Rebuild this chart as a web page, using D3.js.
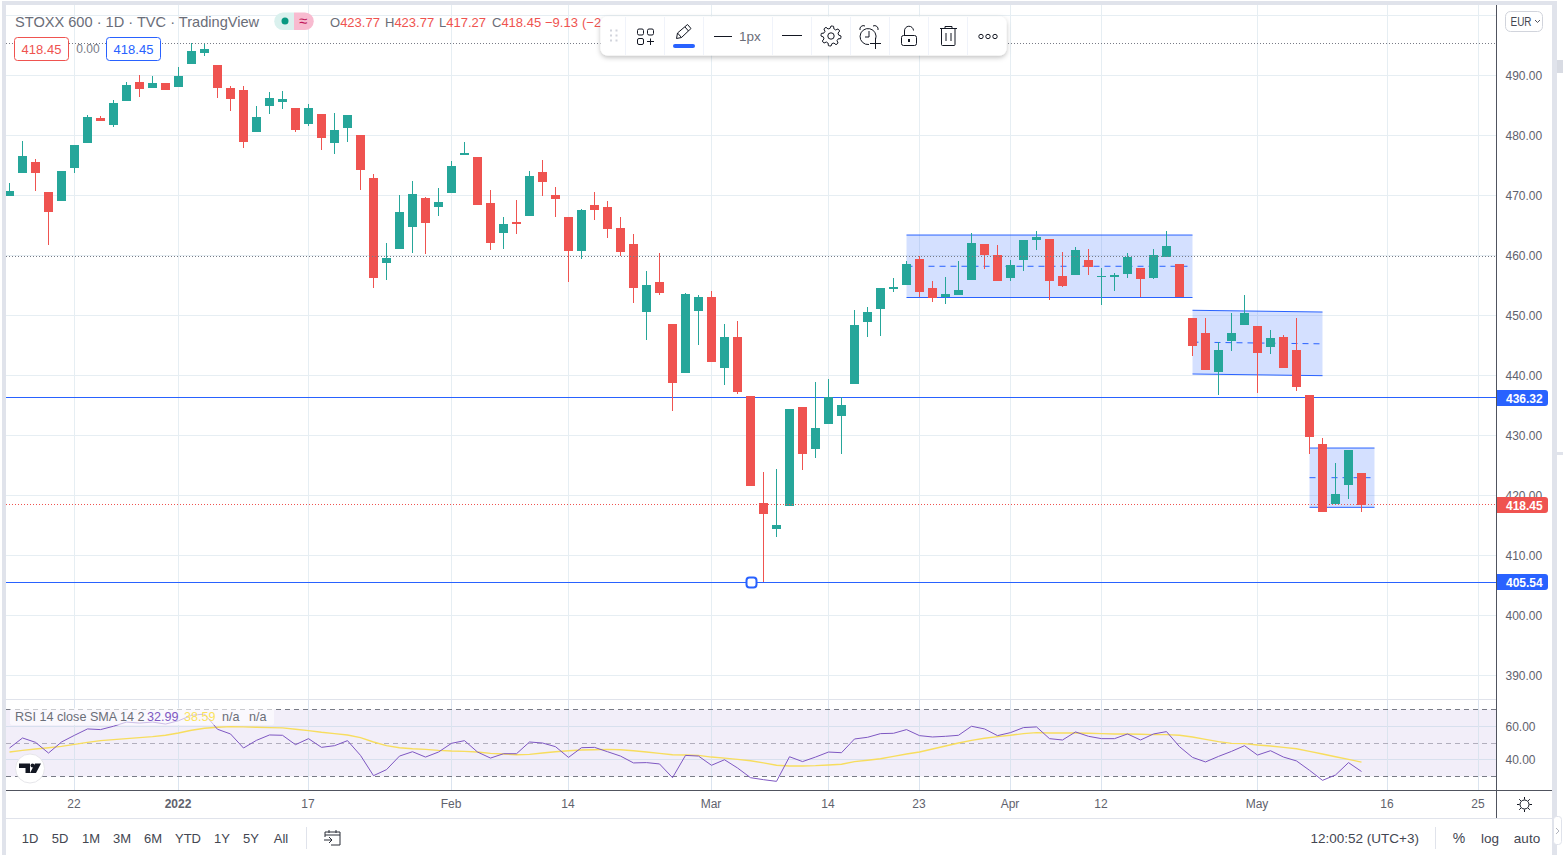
<!DOCTYPE html>
<html>
<head>
<meta charset="utf-8">
<script src="https://cdn.jsdelivr.net/npm/d3@7"></script>
<style>
html, body { margin: 0; padding: 0; background: #fff; overflow: hidden; }
svg { display: block; }
text { font-family: "Liberation Sans", Arial, sans-serif; }
</style>
</head>
<body>
<div id="chart"></div>
<script>
// candles, one per trading day
const opens = [469.91,473.75,475.58,470.58,469.08,474.58,478.75,482.91,481.75,485.75,488.91,487.91,488.75,488.08,491.91,493.75,491.75,487.91,487.58,480.58,484.91,485.58,484.58,481.91,483.58,478.75,481.25,480.08,472.91,458.75,461.08,464.75,469.58,468.08,470.41,476.75,476.41,468.75,463.75,465.58,466.58,473.91,470.08,466.41,460.75,468.41,468.08,464.58,461.91,450.58,455.58,448.58,440.41,450.75,453.08,441.25,446.41,436.58,418.75,414.41,418.25,434.75,427.75,431.91,433.25,438.58,448.91,451.08,454.41,455.08,459.41,454.58,453.08,453.41,455.91,461.91,460.08,456.25,459.25,462.58,462.75,456.58,456.75,459.25,456.41,456.41,456.91,457.91,456.25,459.75,458.58,449.58,447.08,440.58,445.75,448.41,448.25,444.75,446.41,444.25,436.75,428.58,418.58,421.75,423.77];
const highs = [472.08,479.08,476.08,470.58,474.08,478.41,483.41,483.25,485.91,488.91,490.08,489.91,488.75,491.41,495.41,495.41,491.75,488.25,488.25,484.91,487.25,487.41,484.58,485.25,483.58,483.75,483.41,480.08,473.58,462.08,470.08,472.41,469.75,471.25,475.75,478.91,476.41,470.91,466.41,469.25,474.08,475.91,471.41,466.41,467.75,470.58,469.08,466.41,463.58,457.41,460.41,448.58,453.75,453.41,454.08,448.58,449.08,436.58,423.91,424.41,434.41,434.75,438.91,439.41,436.41,450.91,451.41,454.58,456.25,459.08,459.91,455.75,456.41,459.08,463.75,461.91,461.75,459.25,462.58,464.08,462.75,460.58,461.41,461.08,457.91,457.08,460.41,457.91,461.08,464.08,458.58,449.58,449.58,445.58,450.41,453.41,448.25,447.58,446.75,449.58,436.75,429.58,425.41,427.58,423.77];
const lows = [469.91,473.75,470.75,461.75,469.08,473.75,478.75,482.41,481.41,485.75,486.41,487.91,487.58,488.08,491.91,493.25,486.25,484.08,477.91,480.58,483.58,484.41,480.58,481.58,477.58,476.91,478.91,470.91,454.58,455.91,461.08,460.41,460.25,466.58,470.41,476.75,468.41,460.91,461.08,463.58,466.58,469.91,466.41,455.58,459.41,465.91,462.91,459.91,452.08,445.91,453.41,434.08,440.41,445.08,442.25,438.41,436.91,421.58,405.58,413.08,418.25,424.25,426.25,431.91,426.91,438.58,446.41,446.58,453.91,455.08,453.08,452.25,451.91,453.41,455.91,457.75,455.75,455.75,457.41,460.91,452.58,454.75,456.75,456.75,451.75,454.08,456.25,453.08,456.08,459.75,453.08,443.25,440.91,436.75,444.08,448.41,437.08,443.58,441.25,437.41,426.91,417.25,418.58,419.41,417.27];
const closes = [470.75,476.58,473.75,467.25,474.08,478.41,483.08,482.41,485.41,488.41,487.75,488.75,487.58,489.91,494.08,494.41,487.91,486.08,478.91,483.08,486.25,486.08,480.91,484.58,479.58,480.91,483.41,474.25,456.25,459.58,467.25,470.25,465.41,468.91,474.91,477.08,468.41,462.08,465.25,465.25,473.25,472.25,469.41,460.75,467.58,467.58,464.41,460.58,454.58,455.08,453.75,438.75,453.58,453.08,442.25,446.41,437.25,421.58,416.91,415.08,434.41,426.91,431.25,436.41,435.08,448.41,450.58,454.58,454.75,458.58,453.91,452.91,453.58,454.25,462.08,460.08,455.75,458.41,462.58,463.08,455.75,454.91,460.91,458.08,456.58,456.75,459.75,456.08,460.08,461.58,453.08,444.91,440.91,444.25,447.08,450.41,443.75,446.25,441.25,438.08,429.75,417.25,420.25,427.58,418.45];

const rsi = [47.0,53.0,50.4,44.0,50.6,54.6,58.4,58.0,60.0,62.5,61.9,62.5,61.3,63.3,66.5,67.3,58.2,55.4,47.0,51.6,54.8,54.6,49.0,52.6,47.4,48.4,51.4,42.6,30.5,34.1,42.2,44.8,41.6,44.6,49.8,51.4,44.6,41.0,43.6,43.6,50.6,50.0,47.8,41.4,47.2,47.4,44.8,42.2,38.1,38.3,37.5,29.3,42.6,42.2,36.7,40.0,35.1,29.3,28.1,27.1,41.8,38.9,41.6,44.6,44.2,52.4,53.4,55.6,55.8,58.0,54.4,53.6,54.0,54.6,60.0,58.4,54.4,56.2,59.2,59.6,52.6,51.8,56.6,54.0,52.6,52.6,55.4,51.8,55.4,56.8,47.8,41.4,38.7,42.0,45.0,48.4,42.8,45.4,41.6,39.3,33.7,27.7,30.9,38.3,32.99];
const rsiSma = [44.6,45.6,46.4,47.2,48.0,49.2,50.4,51.4,52.0,52.6,53.2,53.8,54.6,56.0,57.6,58.8,59.4,59.8,59.6,59.4,59.2,59.0,58.2,57.4,56.4,55.6,54.8,53.2,50.6,48.4,47.2,46.6,46.2,45.6,45.2,45.0,44.6,43.8,43.4,43.0,43.2,44.0,44.8,45.4,45.8,46.0,46.2,46.0,45.4,44.6,43.8,43.0,42.8,42.6,41.6,41.0,40.2,39.4,38.1,36.7,36.3,36.3,36.5,36.9,37.3,38.9,39.7,40.6,42.0,43.4,44.6,46.4,48.2,50.0,51.6,52.8,53.8,54.6,55.6,56.2,56.0,56.0,56.0,55.8,55.6,55.4,55.4,55.2,55.0,55.0,54.6,53.6,52.2,50.8,49.8,49.6,48.8,48.2,47.4,46.6,45.0,43.4,41.8,40.2,38.59];

// x axis ticks are candle indexes, the last two are past the data
const dateTicks = [5, 13, 23, 34, 43, 54, 63, 70, 77, 84, 96, 106, 113];
const dateLabels = ["22", "2022", "17", "Feb", "14", "Mar", "14", "23", "Apr", "12", "May", "16", "25"];
const priceTicks = [390, 400, 410, 420, 430, 440, 450, 460, 470, 480, 490];
const rsiTicks = [40, 60];
const rsiBands = [70, 50, 30];

// drawings on the chart
const hLines = [436.32, 405.54];
const dottedLevels = [495.4, 459.9];
const lastPrice = 418.45;
const channels = [
    { from: 69, to: 91, top: [463.41, 463.41], bottom: [453.0, 453.0] },
    { from: 91, to: 101, top: [450.87, 450.58], bottom: [440.25, 439.97] },
    { from: 100, to: 105, top: [427.91, 427.91], bottom: [418.03, 418.03] },
];
const anchorIndex = 57;

const rangeButtons = ["1D", "5D", "1M", "3M", "6M", "YTD", "1Y", "5Y", "All"];
const rangeButtonX = [30, 60, 91, 122, 153, 188, 222, 251, 281];

const red = "#ef5350", green = "#26a69a", blue = "#2962ff", gridColor = "#e6eef3";
const textColor = "#5f626d", darkLine = "#50535e", frameColor = "#e0e3eb";

const width = 1563, height = 855;
const paneLeft = 6, paneRight = 1496, paneTop = 5, paneSplit = 699, paneBottom = 790, axisBottom = 818;

const svg = d3.select("#chart").append("svg").attr("width", width).attr("height", height);

const x = d3.scaleLinear().domain([0, 104]).range([9.5, 1361.5]);
const y = d3.scaleLinear().domain([400, 490]).range([615.5, 75.5]);
const yRsi = d3.scaleLinear().domain([30, 70]).range([776.5, 709.5]);

// one pixel lines stay sharp on a half pixel
const crisp = v => Math.round(v - 0.5) + 0.5;

const defs = svg.append("defs");
defs.append("clipPath").attr("id", "mainClip").append("rect")
    .attr("x", paneLeft).attr("y", paneTop).attr("width", paneRight - paneLeft).attr("height", paneSplit - paneTop);
defs.append("clipPath").attr("id", "rsiClip").append("rect")
    .attr("x", paneLeft).attr("y", paneSplit).attr("width", paneRight - paneLeft).attr("height", paneBottom - paneSplit);
const shadow = defs.append("filter").attr("id", "toolbarShadow")
    .attr("x", "-5%").attr("y", "-30%").attr("width", "110%").attr("height", "170%");
shadow.append("feDropShadow").attr("dx", 0).attr("dy", 2).attr("stdDeviation", 2.5)
    .attr("flood-color", "#000").attr("flood-opacity", 0.25);

// frame strips
svg.append("rect").attr("x", 2).attr("y", 1).attr("width", 1555).attr("height", 4).attr("fill", frameColor);
svg.append("rect").attr("x", 2).attr("y", 1).attr("width", 4).attr("height", height).attr("fill", frameColor);
svg.append("rect").attr("x", 1552).attr("y", 1).attr("width", 5).attr("height", height).attr("fill", frameColor);
svg.append("rect").attr("x", 1557).attr("y", 60).attr("width", 6).attr("height", 13).attr("fill", "#d8dbe3");
svg.append("rect").attr("x", 1557).attr("y", 452).attr("width", 6).attr("height", 3).attr("fill", frameColor);

// grid
const main = svg.append("g").attr("clip-path", "url(#mainClip)");
const lower = svg.append("g").attr("clip-path", "url(#rsiClip)");

main.selectAll(".hgrid").data(priceTicks.concat([500])).enter().append("line")
    .attr("x1", paneLeft).attr("x2", paneRight)
    .attr("y1", d => y(d)).attr("y2", d => y(d))
    .attr("stroke", gridColor);
main.selectAll(".vgrid").data(dateTicks).enter().append("line")
    .attr("x1", d => x(d)).attr("x2", d => x(d))
    .attr("y1", paneTop).attr("y2", paneSplit)
    .attr("stroke", gridColor);

// channels go under the candles
channels.forEach(c => {
    const x1 = x(c.from), x2 = x(c.to);
    main.append("polygon")
        .attr("points", [[x1, y(c.top[0])], [x2, y(c.top[1])], [x2, y(c.bottom[1])], [x1, y(c.bottom[0])]].join(" "))
        .attr("fill", blue).attr("fill-opacity", 0.2);
    main.append("line").attr("x1", x1).attr("x2", x2).attr("y1", y(c.top[0])).attr("y2", y(c.top[1]))
        .attr("stroke", blue).attr("stroke-width", 1);
    main.append("line").attr("x1", x1).attr("x2", x2).attr("y1", y(c.bottom[0])).attr("y2", y(c.bottom[1]))
        .attr("stroke", blue).attr("stroke-width", 1);
    main.append("line").attr("x1", x1).attr("x2", x2)
        .attr("y1", y((c.top[0] + c.bottom[0]) / 2)).attr("y2", y((c.top[1] + c.bottom[1]) / 2))
        .attr("stroke", blue).attr("stroke-width", 1).attr("stroke-dasharray", "6 5");
});

main.selectAll(".hline").data(hLines).enter().append("line")
    .attr("x1", paneLeft).attr("x2", paneRight)
    .attr("y1", d => crisp(y(d))).attr("y2", d => crisp(y(d)))
    .attr("stroke", blue);

// candles
const candles = main.append("g").selectAll("g").data(d3.range(opens.length)).enter().append("g")
    .attr("fill", i => closes[i] >= opens[i] ? green : red)
    .attr("shape-rendering", "crispEdges");
candles.append("rect")
    .attr("x", i => x(i) - 0.5).attr("width", 1)
    .attr("y", i => Math.round(y(highs[i])))
    .attr("height", i => Math.max(1, Math.round(y(lows[i])) - Math.round(y(highs[i]))));
candles.append("rect")
    .attr("x", i => x(i) - 4.5).attr("width", 9)
    .attr("y", i => Math.round(y(Math.max(opens[i], closes[i]))))
    .attr("height", i => Math.max(1, Math.round(y(Math.min(opens[i], closes[i]))) - Math.round(y(Math.max(opens[i], closes[i])))));

// dotted levels sit on top of the candles
main.selectAll(".dotted").data(dottedLevels).enter().append("line")
    .attr("x1", paneLeft).attr("x2", paneRight)
    .attr("y1", d => crisp(y(d))).attr("y2", d => crisp(y(d)))
    .attr("stroke", "#787b86").attr("stroke-dasharray", "1 2");
main.append("line")
    .attr("x1", paneLeft).attr("x2", paneRight)
    .attr("y1", crisp(y(lastPrice))).attr("y2", crisp(y(lastPrice)))
    .attr("stroke", red).attr("stroke-dasharray", "1 2");

// anchor of the selected line
main.append("rect")
    .attr("x", x(anchorIndex) - 4).attr("y", crisp(y(hLines[1])) - 5)
    .attr("width", 10).attr("height", 10).attr("rx", 3)
    .attr("fill", "#fff").attr("stroke", blue).attr("stroke-width", 2);

// RSI pane
lower.append("rect")
    .attr("x", paneLeft).attr("width", x(118) - paneLeft)
    .attr("y", yRsi(70)).attr("height", yRsi(30) - yRsi(70))
    .attr("fill", "#7e57c2").attr("fill-opacity", 0.1);
lower.selectAll(".hgrid").data(rsiTicks).enter().append("line")
    .attr("x1", paneLeft).attr("x2", paneRight)
    .attr("y1", d => crisp(yRsi(d))).attr("y2", d => crisp(yRsi(d)))
    .attr("stroke", "#d8e0ee");
lower.selectAll(".vgrid").data(dateTicks).enter().append("line")
    .attr("x1", d => x(d)).attr("x2", d => x(d))
    .attr("y1", paneSplit).attr("y2", paneBottom)
    .attr("stroke", "#dbe4ef");
lower.selectAll(".band").data(rsiBands).enter().append("line")
    .attr("x1", paneLeft).attr("x2", paneRight)
    .attr("y1", d => crisp(yRsi(d))).attr("y2", d => crisp(yRsi(d)))
    .attr("stroke", d => d === 50 ? "#b1aebd" : "#787b86")
    .attr("stroke-dasharray", "5 4");

const rsiLine = d3.line().x((d, i) => x(i)).y(d => yRsi(d));
lower.append("path").datum(rsiSma).attr("d", rsiLine)
    .attr("fill", "none").attr("stroke", "#f7dd5e").attr("stroke-width", 1.4);
lower.append("path").datum(rsi).attr("d", rsiLine)
    .attr("fill", "none").attr("stroke", "#7e57c2").attr("stroke-width", 1);

// axes
const xAxis = d3.axisBottom(x).tickValues(dateTicks).tickSize(0).tickPadding(9)
    .tickFormat((d, i) => dateLabels[i]);
const gx = svg.append("g").attr("transform", `translate(-1,${paneBottom + 0.5})`).call(xAxis);
gx.select(".domain").remove();
gx.selectAll("text").attr("font-size", 12).attr("fill", textColor).attr("font-family", "Liberation Sans")
    .attr("font-weight", (d, i) => dateLabels[i] === "2022" ? 700 : 400);

const yAxis = d3.axisRight(y).tickValues(priceTicks).tickSize(0).tickPadding(9.5)
    .tickFormat(d3.format(".2f"));
const gy = svg.append("g").attr("transform", `translate(${paneRight},0)`).call(yAxis);
gy.select(".domain").remove();
gy.selectAll("text").attr("font-size", 12).attr("fill", textColor).attr("font-family", "Liberation Sans");

const yRsiAxis = d3.axisRight(yRsi).tickValues(rsiTicks).tickSize(0).tickPadding(9.5)
    .tickFormat(d3.format(".2f"));
const gr = svg.append("g").attr("transform", `translate(${paneRight},0)`).call(yRsiAxis);
gr.select(".domain").remove();
gr.selectAll("text").attr("font-size", 12).attr("fill", textColor).attr("font-family", "Liberation Sans");

// pane borders
svg.append("line").attr("x1", paneLeft).attr("x2", paneRight).attr("y1", paneSplit + 0.5).attr("y2", paneSplit + 0.5).attr("stroke", frameColor);
svg.append("line").attr("x1", paneLeft).attr("x2", 1552).attr("y1", paneBottom + 0.5).attr("y2", paneBottom + 0.5).attr("stroke", darkLine);
svg.append("line").attr("x1", paneRight + 0.5).attr("x2", paneRight + 0.5).attr("y1", paneTop).attr("y2", axisBottom).attr("stroke", darkLine);
svg.append("line").attr("x1", paneLeft).attr("x2", 1552).attr("y1", axisBottom + 0.5).attr("y2", axisBottom + 0.5).attr("stroke", frameColor);

// price labels on the axis
function priceTag(value, color) {
    const cy = Math.round(y(value));
    svg.append("path")
        .attr("d", `M1497,${cy - 8}H1545a3,3 0 0 1 3,3V${cy + 5}a3,3 0 0 1 -3,3H1497Z`)
        .attr("fill", color);
    svg.append("text").attr("x", 1506).attr("y", cy + 4.5)
        .attr("font-size", 12).attr("font-weight", 700).attr("fill", "#fff")
        .text(value.toFixed(2));
}
hLines.forEach(v => priceTag(v, blue));
priceTag(lastPrice, red);

// EUR button
svg.append("rect").attr("x", 1505.5).attr("y", 11.5).attr("width", 37).attr("height", 20).attr("rx", 5)
    .attr("fill", "#fff").attr("stroke", "#d1d4dc");
svg.append("text").attr("x", 1510.5).attr("y", 25.5).attr("font-size", 12).attr("fill", "#434651")
    .attr("textLength", 21).attr("lengthAdjust", "spacingAndGlyphs").text("EUR");
svg.append("path").attr("d", "M1535,20l2.5,2.5l2.5,-2.5").attr("fill", "none").attr("stroke", "#50535e");

// sun button
const sun = svg.append("g").attr("transform", "translate(1524.5,804.5)")
    .attr("fill", "none").attr("stroke", "#131722").attr("stroke-width", 1);
sun.append("circle").attr("r", 4.5);
d3.range(8).forEach(k => {
    const a = k * Math.PI / 4;
    sun.append("line").attr("x1", 5 * Math.cos(a)).attr("y1", 5 * Math.sin(a))
        .attr("x2", 7.5 * Math.cos(a)).attr("y2", 7.5 * Math.sin(a));
});

// legend
svg.append("text").attr("x", 15).attr("y", 27).attr("font-size", 14.6).attr("fill", "#6a6d78")
    .text("STOXX 600 · 1D · TVC · TradingView");

svg.append("path").attr("d", "M283,12.5H294V30H283a8.75,8.75 0 0 1 0,-17.5Z").attr("fill", "#daf1ee");
svg.append("path").attr("d", "M294,12.5H305a8.75,8.75 0 0 1 0,17.5H294Z").attr("fill", "#f8bbd0");
svg.append("circle").attr("cx", 285).attr("cy", 21).attr("r", 3.5).attr("fill", "#089981");
svg.append("text").attr("x", 303).attr("y", 26).attr("text-anchor", "middle").attr("font-size", 15)
    .attr("font-family", "DejaVu Sans").attr("fill", "#c2185b").text("≈");

const ohlcLetters = ["O", "H", "L", "C"];
const ohlcValues = [opens[104], highs[104], lows[104], closes[104]];
const ohlcX = [330, 385, 439, 492];
ohlcLetters.forEach((l, k) => {
    const t = svg.append("text").attr("x", ohlcX[k]).attr("y", 27).attr("font-size", 13).attr("fill", "#6a6d78");
    t.append("tspan").text(l);
    t.append("tspan").attr("fill", red).text(ohlcValues[k].toFixed(2));
});
svg.append("text").attr("x", 545).attr("y", 27).attr("font-size", 13).attr("fill", red).text("−9.13");
svg.append("text").attr("x", 582).attr("y", 27).attr("font-size", 13).attr("fill", red).text("(−2");

svg.append("rect").attr("x", 14.5).attr("y", 37.5).attr("width", 54).attr("height", 23).attr("rx", 3)
    .attr("fill", "#fff").attr("stroke", red);
svg.append("text").attr("x", 41.5).attr("y", 54).attr("text-anchor", "middle").attr("font-size", 13).attr("fill", red).text("418.45");
svg.append("text").attr("x", 88).attr("y", 53).attr("text-anchor", "middle").attr("font-size", 12).attr("fill", "#787b86").text("0.00");
svg.append("rect").attr("x", 106.5).attr("y", 37.5).attr("width", 54).attr("height", 23).attr("rx", 3)
    .attr("fill", "#fff").attr("stroke", blue);
svg.append("text").attr("x", 133.5).attr("y", 54).attr("text-anchor", "middle").attr("font-size", 13).attr("fill", blue).text("418.45");

// RSI legend
svg.append("rect").attr("x", 10).attr("y", 708).attr("width", 264).attr("height", 17).attr("rx", 2)
    .attr("fill", "#fff").attr("fill-opacity", 0.6);
const rsiLegend = svg.append("text").attr("x", 15).attr("y", 721).attr("font-size", 12.6).attr("fill", "#6a6d78");
rsiLegend.append("tspan").text("RSI 14 close SMA 14 2");
rsiLegend.append("tspan").attr("x", 147).attr("fill", "#7e57c2").text("32.99");
rsiLegend.append("tspan").attr("x", 184).attr("fill", "#fbe35d").text("38.59");
rsiLegend.append("tspan").attr("x", 222).text("n/a");
rsiLegend.append("tspan").attr("x", 249).text("n/a");

// TradingView badge
svg.append("circle").attr("cx", 30).attr("cy", 768.5).attr("r", 14.5)
    .attr("fill", "#fff").attr("stroke", "#e6e6ea");
svg.append("path").attr("d", "M19,763.5H30V773H25.5V768H19ZM35,763.5H41L36,773H30Z").attr("fill", "#131722");
svg.append("circle").attr("cx", 32.5).attr("cy", 765.5).attr("r", 2).attr("fill", "#131722");

// bottom bar
rangeButtons.forEach((b, k) => {
    svg.append("text").attr("x", rangeButtonX[k]).attr("y", 843).attr("text-anchor", "middle")
        .attr("font-size", 13).attr("fill", "#434651").text(b);
});
svg.append("line").attr("x1", 306.5).attr("x2", 306.5).attr("y1", 827).attr("y2", 849).attr("stroke", frameColor);
svg.append("path")
    .attr("d", "M325,837V832H340V845H331M329,830V833M336,830V833M325,835H340M324,840H332M329,837L332,840L329,843")
    .attr("fill", "none").attr("stroke", "#2a2e39");

svg.append("text").attr("x", 1419).attr("y", 843).attr("text-anchor", "end").attr("font-size", 13.5)
    .attr("fill", "#434651").text("12:00:52 (UTC+3)");
svg.append("line").attr("x1", 1435.5).attr("x2", 1435.5).attr("y1", 827).attr("y2", 849).attr("stroke", frameColor);
svg.append("text").attr("x", 1459).attr("y", 843).attr("text-anchor", "middle").attr("font-size", 14).attr("fill", "#434651").text("%");
svg.append("text").attr("x", 1490).attr("y", 843).attr("text-anchor", "middle").attr("font-size", 13.5).attr("fill", "#434651").text("log");
svg.append("text").attr("x", 1527).attr("y", 843).attr("text-anchor", "middle").attr("font-size", 13.5).attr("fill", "#434651").text("auto");

// collapse tab
svg.append("rect").attr("x", 1553.5).attr("y", 816.5).attr("width", 8).attr("height", 28).attr("rx", 3)
    .attr("fill", "#fff").attr("stroke", frameColor);
svg.append("path").attr("d", "M1556,828l3,3l-3,3").attr("fill", "none").attr("stroke", "#b2b5be");

// floating toolbar
const bar = svg.append("g");
bar.append("rect").attr("x", 600.5).attr("y", 16.5).attr("width", 406).attr("height", 39).attr("rx", 7)
    .attr("fill", "#fff").attr("filter", "url(#toolbarShadow)");
[625.5, 664.5, 703.5, 772.5, 811.5, 850.5, 889.5, 928.5, 967.5].forEach(sx => {
    bar.append("line").attr("x1", sx).attr("x2", sx).attr("y1", 17).attr("y2", 55).attr("stroke", "#f0f3fa");
});
[610, 615.5].forEach(gx => [30.5, 35.5, 40.5].forEach(gy => {
    bar.append("rect").attr("x", gx).attr("y", gy - 1).attr("width", 2).attr("height", 2).attr("fill", "#d1d4dc");
}));
const icons = bar.append("g").attr("fill", "none").attr("stroke", "#131722").attr("stroke-width", 1);
// templates
icons.append("rect").attr("x", 637.5).attr("y", 29).attr("width", 6).attr("height", 6).attr("rx", 1.5);
icons.append("rect").attr("x", 647.5).attr("y", 29).attr("width", 6).attr("height", 6).attr("rx", 1.5);
icons.append("rect").attr("x", 637.5).attr("y", 38.5).attr("width", 6).attr("height", 6).attr("rx", 1.5);
icons.append("path").attr("d", "M650.5,38.5V45M647,41.5H654");
// pencil
icons.append("path").attr("d", "M676.5,38.5L677.5,33L687.5,24.5L691,28.5L681.5,37.5ZM677.5,33L681.5,37.5M685,27L688.5,31");
bar.append("rect").attr("x", 673).attr("y", 44).attr("width", 22).attr("height", 4).attr("rx", 2).attr("fill", blue);
// line style and width
icons.append("path").attr("d", "M714,36.5H732");
bar.append("text").attr("x", 739).attr("y", 41).attr("font-size", 13.5).attr("fill", "#6a6d78").text("1px");
icons.append("path").attr("d", "M782,35.5H802");
// settings gear, drawn from a radial line
const gearPts = d3.range(0, 48).map(k => [k * Math.PI / 24, (k % 6 < 3) ? 10 : 7.6]);
icons.append("path").attr("transform", "translate(831,36)")
    .attr("d", d3.lineRadial().curve(d3.curveLinearClosed)(gearPts));
icons.append("circle").attr("cx", 831).attr("cy", 36).attr("r", 3.2);
// alert
icons.append("path").attr("d", "M875.5,39.5A8,8 0 1 0 869,44.5");
icons.append("path").attr("d", "M869,31V37H865M860,30a3.5,3.5 0 0 1 5,-4M873,26a3.5,3.5 0 0 1 5,4");
icons.append("path").attr("d", "M875.5,38V49M870,43.5H881");
// lock
icons.append("rect").attr("x", 901.5).attr("y", 35.5).attr("width", 15).attr("height", 10).attr("rx", 2);
icons.append("path").attr("d", "M904.5,35.5V31a4.5,4.5 0 0 1 9,-0.5");
bar.append("rect").attr("x", 908).attr("y", 39).attr("width", 2).attr("height", 3).attr("fill", "#131722");
// trash
icons.append("path").attr("d", "M940,28.5H957M945,28.5V26.5H952V28.5M941.5,28.5V44.5a1,1 0 0 0 1,1H954a1,1 0 0 0 1,-1V28.5M946,33V41M951,33V41");
// more
[981, 988, 995].forEach(cx => icons.append("circle").attr("cx", cx).attr("cy", 36.5).attr("r", 2.2));
</script>
</body>
</html>
